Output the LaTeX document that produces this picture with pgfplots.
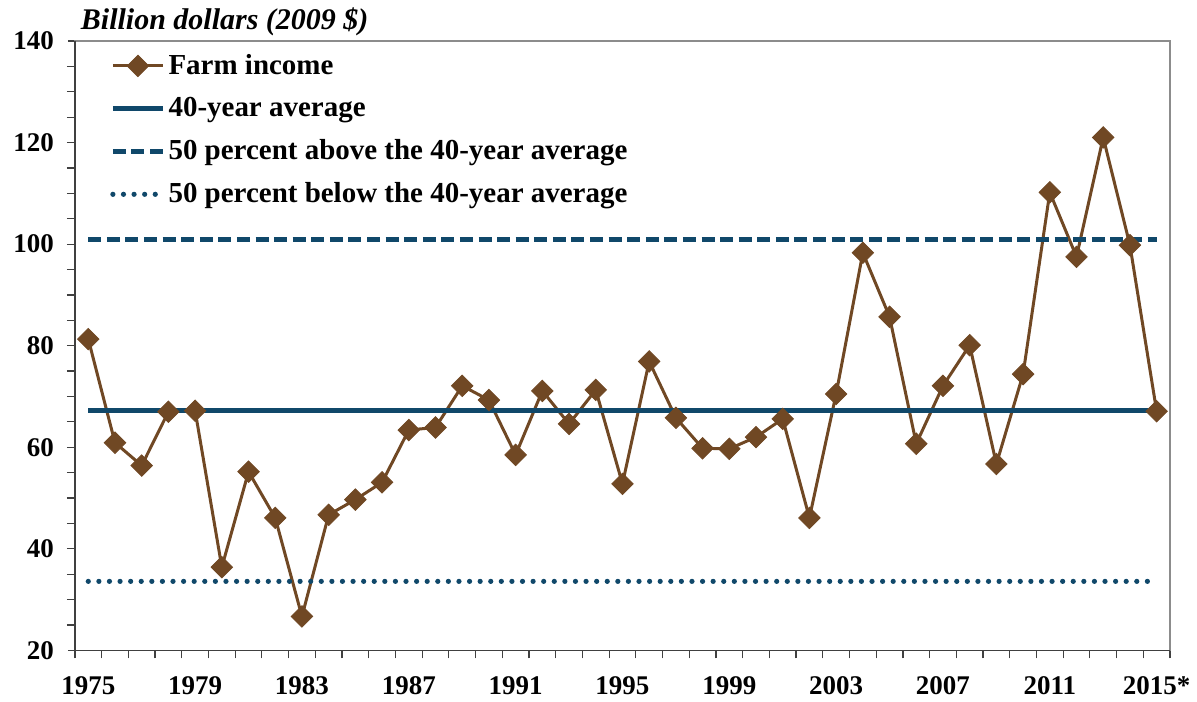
\documentclass[border=0pt]{standalone}
\usepackage{fontspec}
\setmainfont{Liberation Serif}
\usepackage{pgfplots}
\pgfplotsset{compat=1.18}
\definecolor{farm}{RGB}{112,72,36}
\definecolor{navy}{RGB}{16,72,106}

\pgfplotstableread{
year income
1975 81.3
1976 60.9
1977 56.4
1978 67.0
1979 67.2
1980 36.4
1981 55.2
1982 46.1
1983 26.7
1984 46.7
1985 49.7
1986 53.1
1987 63.4
1988 63.9
1989 72.1
1990 69.3
1991 58.5
1992 71.1
1993 64.6
1994 71.3
1995 52.8
1996 76.9
1997 65.8
1998 59.8
1999 59.7
2000 62.0
2001 65.6
2002 46.1
2003 70.5
2004 98.3
2005 85.7
2006 60.7
2007 72.1
2008 80.1
2009 56.7
2010 74.4
2011 110.2
2012 97.5
2013 121.0
2014 99.8
2015 67.1
}\farmdata

\begin{document}
\begin{tikzpicture}
\begin{axis}[scale only axis, width=548pt, height=305pt,
  xmin=1974.5, xmax=2015.5, ymin=20, ymax=140,
  xtick={1975,1979,...,2015},
  xticklabels={1975,1979,1983,1987,1991,1995,1999,2003,2007,2011,2015*},
  minor xtick={1974.5,1975.5,...,2015.5},
  ytick={20,40,...,140}, minor ytick={25,30,...,135},
  tick align=outside, tick pos=left,
  major tick length=3.5pt, minor tick length=4pt,
  x tick style={draw=none}, minor x tick style={draw=black!75, line width=0.6pt},
  y tick style={draw=black!75, line width=0.6pt},
  /pgf/number format/assume math mode=true,
  ticklabel style={font=\bfseries\fontsize{13.5}{13.5}\selectfont},
  yticklabel style={xshift=-3.5pt},
  xticklabel style={yshift=-6pt},
  axis line style={draw=gray!90, line width=0.8pt},
  clip=false,
  legend cell align=left,
  legend image code/.code={\draw[mark repeat=2,mark phase=2] plot coordinates {(0cm,0cm) (0.44cm,0cm) (0.88cm,0cm)};},
  legend style={draw=none, fill=none, at={(0,1)}, anchor=north west,
    xshift=17.5pt, yshift=-5pt, row sep=7pt, inner sep=0pt,
    font=\bfseries\fontsize{14.5}{14.5}\selectfont,
    nodes={inner sep=1.5pt}},
]
\draw[black!75, line width=0.8pt] (rel axis cs:0,1) -- (rel axis cs:0,0) -- (rel axis cs:1,0);
\addplot[farm, line width=1.5pt, mark=square*, mark size=3.8pt,
  mark options={rotate=45, fill=farm, draw=farm, line width=0.4pt}] table[x=year, y=income] {\farmdata};
\addplot[navy, line width=2.3pt] coordinates {(1975,67.3) (2015,67.3)};
\addplot[navy, line width=2.3pt, dash pattern=on 6.5pt off 2.8pt] coordinates {(1975,100.9) (2015,100.9)};
\addplot[navy, line width=2.6pt, line cap=round, dash pattern=on 0pt off 5.3pt] coordinates {(1975,33.6) (2015,33.6)};
\legend{Farm income, 40-year average, 50 percent above the 40-year average, 50 percent below the 40-year average}
\node[anchor=base west, font=\bfseries\itshape\fontsize{15}{15}\selectfont, xshift=-0.5pt, yshift=5.5pt] at (rel axis cs:0,1) {Billion dollars (2009 \$)};
\end{axis}
\path (current axis.south west) +(-37.5pt,-25.5pt);
\path (current axis.north east) +(13pt,20.5pt);
\end{tikzpicture}
\end{document}
